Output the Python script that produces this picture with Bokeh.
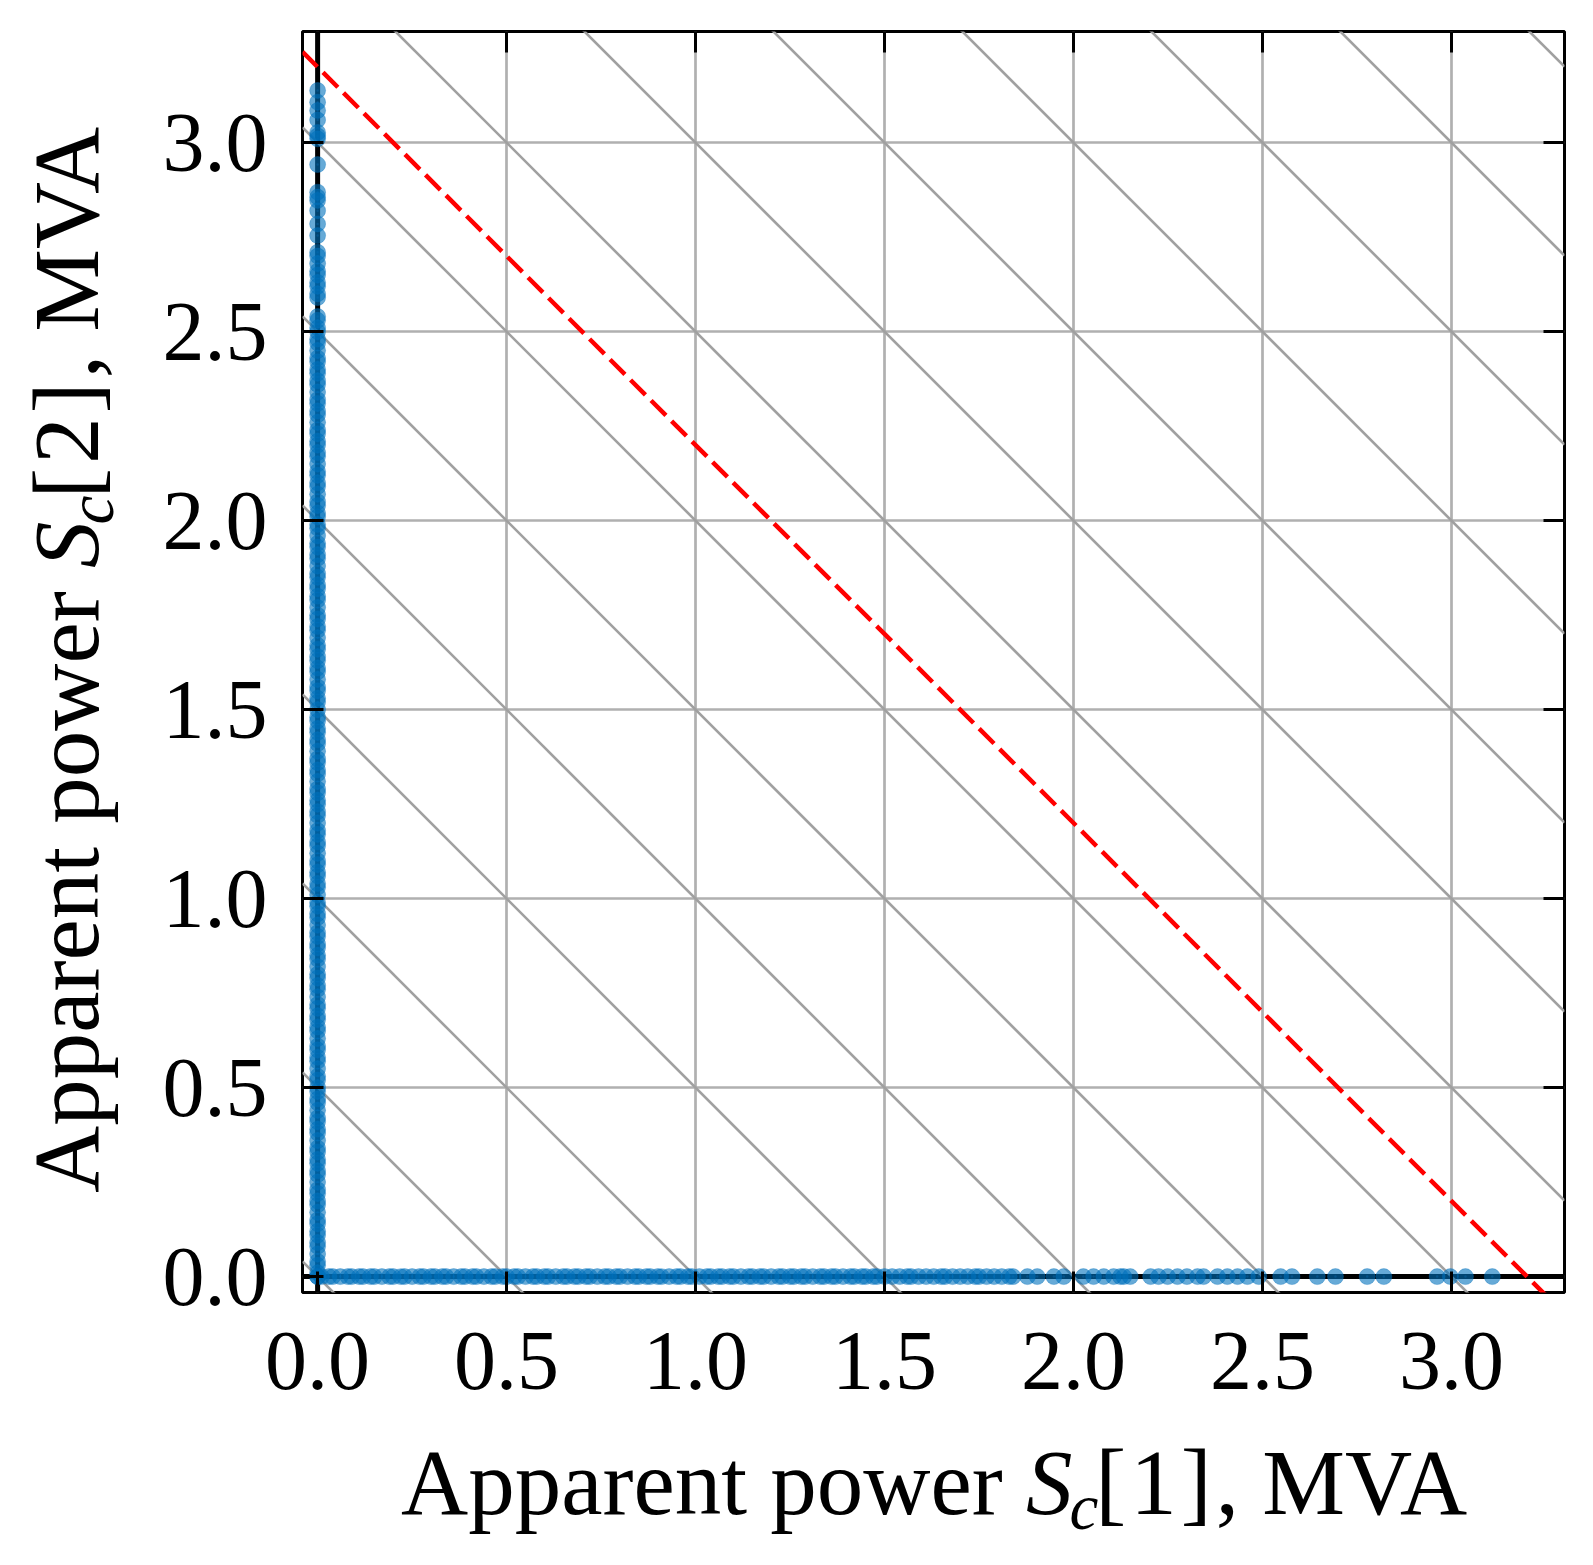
from bokeh.plotting import figure
from bokeh.models import Range1d, Span, LinearAxis, FixedTicker, Spacer, Div, CustomLabelingPolicy
from bokeh.layouts import row, column
from bokeh.embed import file_html
from bokeh.resources import INLINE

# ---------------- data ----------------
# Apparent power of converter 2 for samples where converter 1 is at zero (x = 0)
s2_values = [
    0.00, 0.01, 0.03, 0.04, 0.06, 0.08, 0.09, 0.11, 0.12, 0.14, 0.15, 0.17, 0.19, 0.20, 0.22, 0.23,
    0.25, 0.27, 0.28, 0.30, 0.31, 0.33, 0.34, 0.36, 0.38, 0.39, 0.41, 0.42, 0.44, 0.46, 0.47, 0.49,
    0.50, 0.52, 0.53, 0.55, 0.57, 0.58, 0.60, 0.61, 0.63, 0.65, 0.66, 0.68, 0.69, 0.71, 0.72, 0.74,
    0.76, 0.77, 0.79, 0.80, 0.82, 0.84, 0.85, 0.87, 0.88, 0.90, 0.91, 0.93, 0.95, 0.96, 0.98, 0.99,
    1.01, 1.03, 1.04, 1.06, 1.07, 1.09, 1.10, 1.12, 1.14, 1.15, 1.17, 1.18, 1.20, 1.22, 1.23, 1.25,
    1.26, 1.28, 1.29, 1.31, 1.33, 1.34, 1.36, 1.37, 1.39, 1.41, 1.42, 1.44, 1.45, 1.47, 1.48, 1.50,
    1.52, 1.53, 1.55, 1.56, 1.58, 1.60, 1.61, 1.63, 1.64, 1.66, 1.67, 1.69, 1.71, 1.72, 1.74, 1.75,
    1.77, 1.79, 1.80, 1.82, 1.83, 1.85, 1.86, 1.88, 1.90, 1.91, 1.93, 1.94, 1.96, 1.98, 1.99, 2.01,
    2.02, 2.04, 2.05, 2.07, 2.09, 2.10, 2.12, 2.13, 2.15, 2.17, 2.18, 2.20, 2.21, 2.23, 2.24, 2.26,
    2.28, 2.29, 2.31, 2.32, 2.34, 2.36, 2.37, 2.39, 2.40, 2.42, 2.43, 2.45, 2.47, 2.48, 2.50, 2.51,
    2.53, 2.54,
    2.59, 2.60, 2.62, 2.63, 2.65, 2.66, 2.68, 2.70, 2.71,
    2.754, 2.785, 2.82, 2.847, 2.856, 2.869, 2.942, 3.01, 3.018, 3.027, 3.06, 3.085, 3.107, 3.138,
]

# Apparent power of converter 1 for samples where converter 2 is at zero (y = 0)
s1_values = [
    0.00, 0.01, 0.03, 0.04, 0.06, 0.08, 0.09, 0.11, 0.12, 0.14, 0.15, 0.17, 0.19, 0.20, 0.22, 0.23,
    0.25, 0.27, 0.28, 0.30, 0.31, 0.33, 0.34, 0.36, 0.38, 0.39, 0.41, 0.42, 0.44, 0.46, 0.47, 0.49,
    0.50, 0.52, 0.53, 0.55, 0.57, 0.58, 0.60, 0.61, 0.63, 0.65, 0.66, 0.68, 0.69, 0.71, 0.72, 0.74,
    0.76, 0.77, 0.79, 0.80, 0.82, 0.84, 0.85, 0.87, 0.88, 0.90, 0.91, 0.93, 0.95, 0.96, 0.98, 0.99,
    1.01, 1.03, 1.04, 1.06, 1.07, 1.09, 1.10, 1.12, 1.14, 1.15, 1.17, 1.18, 1.20, 1.22, 1.23, 1.25,
    1.26, 1.28, 1.29, 1.31, 1.33, 1.34, 1.36, 1.37, 1.39, 1.41, 1.42, 1.44, 1.45, 1.47, 1.48, 1.50,
    1.52, 1.54, 1.56, 1.57, 1.59, 1.61, 1.63, 1.65, 1.66, 1.68, 1.70, 1.72, 1.74, 1.75, 1.77, 1.79,
    1.81, 1.83, 1.84,
    1.878, 1.904, 1.948, 1.974, 2.026, 2.053, 2.08, 2.106, 2.124, 2.133, 2.15, 2.204, 2.225, 2.249,
    2.275, 2.30, 2.328, 2.344, 2.381, 2.407, 2.434, 2.46, 2.49, 2.548, 2.578, 2.645, 2.693, 2.777,
    2.821, 2.962, 2.997, 3.037, 3.108,
]

# capacity limit S1 + S2 = const (red dashed) and iso-sum reference lines (grey)
capacity_limit = 3.2
iso_sum_levels = [0.0, 0.5, 1.0, 1.5, 2.0, 2.5, 3.0, 3.5, 4.0, 4.5, 5.0, 5.5, 6.0, 6.5]

tick_values = [0.0, 0.5, 1.0, 1.5, 2.0, 2.5, 3.0]
tick_labels = ["0.0", "0.5", "1.0", "1.5", "2.0", "2.5", "3.0"]

x_title = ("Apparent power ", "S", "c", "[1]", ", MVA")
y_title = ("Apparent power ", "S", "c", "[2]", ", MVA")

x_lim = (-0.040, 3.299)
y_lim = (-0.042, 3.294)

# ---------------- layout sizes ----------------
FONT = "Liberation Serif"
BLUE = "#0072BD"
OFFX = 10                      # horizontal offset the page layout adds
TOTAL_W, TOTAL_H = 1575, 1560
LEFT_W = 140
MAIN_W = TOTAL_W - LEFT_W
MAIN_H = 1450
BOTTOM_H = TOTAL_H - MAIN_H
FRAME_L, FRAME_T, FRAME_W, FRAME_H = 302, 31, 1262, 1261
BORDER_L = FRAME_L - OFFX - LEFT_W

p = figure(width=MAIN_W, height=MAIN_H, output_backend="svg", toolbar_location=None,
           x_range=Range1d(*x_lim), y_range=Range1d(*y_lim),
           min_border_left=BORDER_L,
           min_border_right=MAIN_W - BORDER_L - FRAME_W,
           min_border_top=FRAME_T, min_border_bottom=MAIN_H - FRAME_T - FRAME_H)
p.background_fill_color = "white"
p.border_fill_color = "white"
p.outline_line_color = "black"
p.outline_line_width = 3

overrides = {v: s for v, s in zip(tick_values, tick_labels)}
for ax in (p.xaxis[0], p.yaxis[0]):
    ax.ticker = FixedTicker(ticks=tick_values)
    ax.major_label_overrides = overrides
    ax.major_label_text_font = FONT
    ax.major_label_text_font_size = "84px"
    ax.major_label_text_color = "black"
    ax.axis_line_color = None
    ax.major_tick_in = 21
    ax.major_tick_out = 0
    ax.major_tick_line_width = 3
    ax.major_tick_line_color = "black"
    ax.minor_tick_line_color = None
p.xaxis[0].major_label_standoff = 40
p.yaxis[0].major_label_standoff = 35

# mirror ticks on the top and right edges (no labels drawn there)
for loc in ("above", "right"):
    ax = LinearAxis(ticker=FixedTicker(ticks=tick_values))
    ax.major_label_policy = CustomLabelingPolicy(code="return")
    ax.major_label_text_font = FONT
    ax.major_label_text_font_size = "10px"
    ax.major_label_standoff = 0
    ax.axis_line_color = None
    ax.major_tick_in = 21
    ax.major_tick_out = 0
    ax.major_tick_line_width = 3
    ax.major_tick_line_color = "black"
    ax.minor_tick_line_color = None
    p.add_layout(ax, loc)

for g in (p.xgrid[0], p.ygrid[0]):
    g.ticker = FixedTicker(ticks=tick_values)
    g.grid_line_color = "#b0b0b0"
    g.grid_line_width = 2.7

# zero reference lines
p.add_layout(Span(location=0, dimension="width", line_color="black", line_width=5, level="underlay"))
p.add_layout(Span(location=0, dimension="height", line_color="black", line_width=5, level="underlay"))

# iso-sum grey diagonals
xs = [[x_lim[0], x_lim[1]] for _ in iso_sum_levels]
ys = [[c - x_lim[0], c - x_lim[1]] for c in iso_sum_levels]
p.multi_line(xs, ys, line_color="#a0a0a0", line_width=2.6)

# scatter points
px = [0.0] * len(s2_values) + list(s1_values)
py = list(s2_values) + [0.0] * len(s1_values)
p.scatter(px, py, size=2.5, fill_color="#0d2f4f", fill_alpha=0.8, line_color=None)
p.scatter(px, py, size=16, fill_color=BLUE, fill_alpha=0.6, line_color=BLUE, line_alpha=0.3, line_width=1)

# capacity limit line
p.line([x_lim[0], x_lim[1]], [capacity_limit - x_lim[0], capacity_limit - x_lim[1]],
       line_color="red", line_width=4.5, line_dash="21 8")


# ---------------- axis titles (HTML text with italic S and subscript c) ----------------
LBL_PX = 93
BASE = 78  # baseline distance from top of a 93px line box (Liberation Serif)

def title_html(parts, transform):
    a, s, c, idx, rest = parts
    return (
        f'<div style="font-family:\'{FONT}\'; font-size:{LBL_PX}px; line-height:{LBL_PX}px; '
        f'white-space:nowrap; color:black; transform-origin:0 0; transform:{transform};">'
        f'{a}<span style="font-style:italic;">{s}</span>'
        f'<span style="font-style:italic; font-size:65px; position:relative; top:15px; margin-left:-3px;">{c}</span>'
        f'<span style="margin-left:-3px; letter-spacing:4px;">{idx}</span>'
        f'<span>{rest}</span></div>'
    )

# x title: starts at x=406, baseline at y=1520 (page pixels)
x_div = Div(text=title_html(x_title, f"translate({406 - OFFX - LEFT_W}px, {1520 - MAIN_H - BASE - 21}px)"),
            width=MAIN_W, height=BOTTOM_H)
# y title: rotated, baseline at x=100, starts at y=1194 (page pixels)
y_div = Div(text=title_html(y_title, f"translate({100 - 7 - BASE}px, {1194 - 6}px) rotate(-90deg)"),
            width=LEFT_W, height=MAIN_H)

layout = column(row(y_div, p, spacing=0),
                row(Spacer(width=LEFT_W, height=BOTTOM_H), x_div, spacing=0),
                spacing=0)

open("out.html", "w").write(file_html(layout, INLINE))
